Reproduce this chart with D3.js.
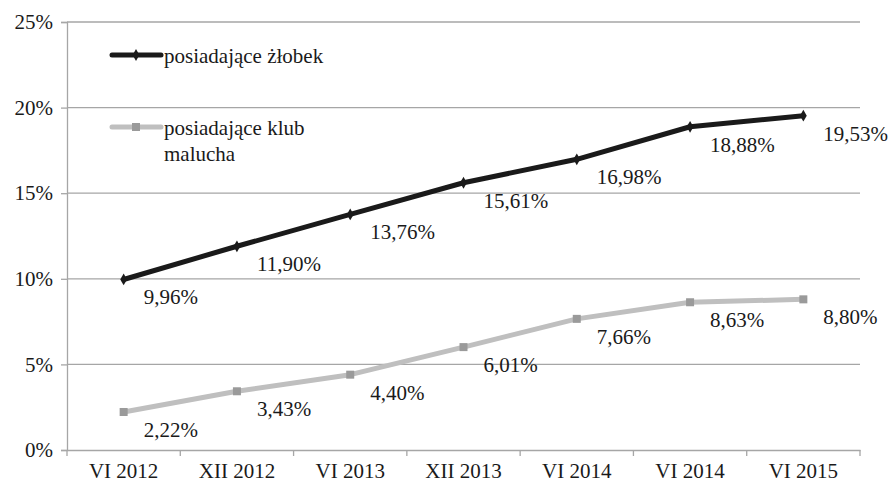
<!DOCTYPE html>
<html><head><meta charset="utf-8">
<script src="https://cdn.jsdelivr.net/npm/d3@7"></script>
<style>body{margin:0;background:#fff}svg{display:block}svg text{font-family:"Times New Roman","Liberation Serif",Tinos,"DejaVu Serif",serif !important;fill:#1a1a1a}</style>
</head><body><svg id="c" width="890" height="485"></svg>
<script>
const categories = ["VI 2012","XII 2012","VI 2013","XII 2013","VI 2014","VI 2014","VI 2015"];
const zlobek = [9.96, 11.90, 13.76, 15.61, 16.98, 18.88, 19.53];
const klub = [2.22, 3.43, 4.40, 6.01, 7.66, 8.63, 8.80];
const yTicks = [0, 5, 10, 15, 20, 25];
const seriesNames = ["posiadające żłobek", ["posiadające klub", "malucha"]];

const FONT = '"Times New Roman","Liberation Serif",serif';
const FS = 21;
const svg = d3.select("#c");
const L = 67, R = 860, T = 22, B = 450;
const x = d3.scaleBand().domain(d3.range(categories.length)).range([L, R]);
const y = d3.scaleLinear().domain([0, 25]).range([B, T]);
const fmt = v => v.toFixed(2).replace(".", ",") + "%";

svg.append("g").selectAll("line").data(yTicks.filter(d => d > 0)).join("line")
  .attr("x1", L).attr("x2", R).attr("y1", d => y(d)).attr("y2", d => y(d))
  .attr("stroke", "#a6a6a6").attr("stroke-width", 1.3);

const ya = svg.append("g").attr("transform", `translate(${L},0)`)
  .call(d3.axisLeft(y).tickValues(yTicks).tickFormat(d => d + "%").tickSize(6).tickPadding(8));
ya.attr("font-family", FONT);
ya.select(".domain").attr("stroke", "#a6a6a6").attr("stroke-width", 1.3);
ya.selectAll(".tick line").attr("stroke", "#a6a6a6").attr("stroke-width", 1.3);
ya.selectAll("text").attr("font-size", FS).attr("fill", "#1a1a1a");

const xa = svg.append("g").attr("transform", `translate(0,${B})`)
  .call(d3.axisBottom(x).tickFormat(i => categories[i]).tickSize(0).tickPadding(13));
xa.attr("font-family", FONT);
xa.select(".domain").attr("stroke", "#a6a6a6").attr("stroke-width", 1.3);
xa.selectAll("text").attr("font-size", FS).attr("fill", "#1a1a1a");
const bounds = d3.range(categories.length + 1).map(i => L + i * x.step());
svg.append("g").selectAll("line").data(bounds).join("line")
  .attr("x1", d => d).attr("x2", d => d).attr("y1", B).attr("y2", B + 6)
  .attr("stroke", "#a6a6a6").attr("stroke-width", 1.3);

const cx = i => x(i) + x.bandwidth() / 2;
const line = d3.line().x((d, i) => cx(i)).y(d => y(d));

svg.append("path").datum(klub).attr("d", line).attr("fill", "none")
  .attr("stroke", "#bfbfbf").attr("stroke-width", 5).attr("stroke-linejoin", "round");
svg.append("g").selectAll("rect").data(klub).join("rect")
  .attr("x", (d, i) => cx(i) - 4).attr("y", d => y(d) - 4).attr("width", 8).attr("height", 8)
  .attr("fill", "#9a9a9a");

svg.append("path").datum(zlobek).attr("d", line).attr("fill", "none")
  .attr("stroke", "#1a1a1a").attr("stroke-width", 5).attr("stroke-linejoin", "round");
svg.append("g").selectAll("path").data(zlobek).join("path")
  .attr("d", d3.symbol(d3.symbolDiamond, 40))
  .attr("transform", (d, i) => `translate(${cx(i)},${y(d)})`).attr("fill", "#1a1a1a");

function labels(arr) {
  svg.append("g").attr("font-family", FONT).selectAll("text").data(arr).join("text")
    .attr("x", (d, i) => cx(i) + 20).attr("y", d => y(d) + 25)
    .attr("font-size", FS).text(fmt);
}
labels(zlobek);
labels(klub);

const lg = svg.append("g").attr("font-family", FONT);
lg.append("line").attr("x1", 112).attr("x2", 161).attr("y1", 55).attr("y2", 55)
  .attr("stroke", "#1a1a1a").attr("stroke-width", 5).attr("stroke-linecap", "round");
lg.append("path").attr("d", d3.symbol(d3.symbolDiamond, 40)).attr("transform", "translate(136,55)").attr("fill", "#1a1a1a");
lg.append("text").attr("x", 164).attr("y", 63).attr("font-size", FS).text(seriesNames[0]);
lg.append("line").attr("x1", 112).attr("x2", 161).attr("y1", 127).attr("y2", 127)
  .attr("stroke", "#bfbfbf").attr("stroke-width", 5).attr("stroke-linecap", "round");
lg.append("rect").attr("x", 132).attr("y", 123).attr("width", 8).attr("height", 8).attr("fill", "#9a9a9a");
lg.append("text").attr("x", 164).attr("y", 135).attr("font-size", FS).text(seriesNames[1][0]);
lg.append("text").attr("x", 164).attr("y", 161).attr("font-size", FS).text(seriesNames[1][1]);
</script></body></html>
